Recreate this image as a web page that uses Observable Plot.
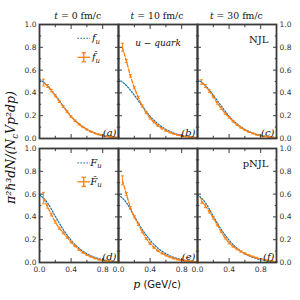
<!DOCTYPE html>
<html><head><meta charset="utf-8">
<script src="https://cdn.jsdelivr.net/npm/d3@7"></script>
<script src="https://cdn.jsdelivr.net/npm/@observablehq/plot@0.6"></script>
<style>body{margin:0;background:#fff}#chart{position:relative;width:300px;height:300px}</style>
</head><body><div id="chart"></div>
<script>
// ---------- data ----------
const times = ["0", "10", "30"];
const timeTitles = ["0 fm/c", "10 fm/c", "30 fm/c"];
const models = ["NJL", "pNJL"];
const panelLetters = ["(a)", "(b)", "(c)", "(d)", "(e)", "(f)"];

const xTickMajor = [0, 0.4, 0.8];
const xTickMinor = [0.2, 0.6, 1.0];
const xTickLabels = [0, 0.4, 0.8];
const yTickMajor = [0, 0.2, 0.4, 0.6, 0.8, 1.0];
const yTickMinor = [0.1, 0.3, 0.5, 0.7, 0.9];

// smooth reference distributions (blue dotted)
const pGrid = [0, 0.1, 0.2, 0.3, 0.4, 0.5, 0.6, 0.7, 0.8, 0.9, 1.0];
const fU = [0.52, 0.465, 0.38, 0.285, 0.195, 0.128, 0.08, 0.047, 0.027, 0.015, 0.008];
const FU = [0.595, 0.525, 0.405, 0.29, 0.195, 0.125, 0.077, 0.045, 0.025, 0.013, 0.006];

// simulated histograms (orange, with error bars)
const pBins = [0.05, 0.1, 0.15, 0.2, 0.25, 0.3, 0.35, 0.4, 0.45, 0.5, 0.55, 0.6, 0.65, 0.7, 0.75, 0.8, 0.85, 0.9, 0.95, 1.0];
const hatA = [0.49, 0.46, 0.42, 0.375, 0.325, 0.28, 0.235, 0.19, 0.155, 0.125, 0.1, 0.078, 0.06, 0.046, 0.035, 0.026, 0.019, 0.014, 0.01, 0.007];
const hatB = [0.80, 0.68, 0.55, 0.445, 0.36, 0.285, 0.225, 0.178, 0.142, 0.112, 0.088, 0.069, 0.053, 0.041, 0.031, 0.023, 0.017, 0.012, 0.009, 0.006];
const hatC = [0.495, 0.46, 0.415, 0.365, 0.31, 0.265, 0.22, 0.185, 0.15, 0.12, 0.095, 0.074, 0.057, 0.044, 0.033, 0.025, 0.018, 0.013, 0.009, 0.006];
const hatD = [0.565, 0.49, 0.42, 0.355, 0.30, 0.26, 0.22, 0.178, 0.145, 0.113, 0.087, 0.066, 0.05, 0.036, 0.026, 0.018, 0.013, 0.009, 0.006, 0.004];
const hatE = [0.72, 0.60, 0.48, 0.40, 0.335, 0.27, 0.21, 0.165, 0.13, 0.102, 0.08, 0.062, 0.047, 0.035, 0.026, 0.019, 0.014, 0.01, 0.007, 0.005];
const hatF = [0.54, 0.495, 0.445, 0.39, 0.33, 0.27, 0.215, 0.172, 0.14, 0.117, 0.096, 0.079, 0.064, 0.051, 0.041, 0.032, 0.024, 0.017, 0.011, 0.006];
const errTail = [0, 0.013, 0.011, 0.01, 0.009, 0.009, 0.008, 0.007, 0.006, 0.006, 0.005, 0.005, 0.004, 0.004, 0.004, 0.003, 0.003, 0.003, 0.003, 0.003];
const errFirst = [0.03, 0.035, 0.02, 0.05, 0.04, 0.02];

// ---------- tables ----------
const hats = [hatA, hatB, hatC, hatD, hatE, hatF];
const blueRows = [], orangeRows = [], panelRows = [];
models.forEach((m, mi) => times.forEach((t, ti) => {
  const k = mi * 3 + ti;
  const smooth = m === "NJL" ? fU : FU;
  pGrid.forEach((p, i) => blueRows.push({t, model: m, p, v: smooth[i]}));
  pBins.forEach((p, i) => orangeRows.push({t, model: m, p, v: hats[k][i], e: i === 0 ? errFirst[k] : errTail[i]}));
  panelRows.push({t, model: m, label: panelLetters[k]});
}));
const notes = [
  {t: "10", model: "NJL", text: "u − quark"}
];
const modelNotes = [
  {t: "30", model: "NJL", text: "NJL"},
  {t: "30", model: "pNJL", text: "pNJL"}
];

// ---------- layout / style ----------
const W = 300, H = 300, mL = 38, mR = 24, mT = 24, mB = 37;
const blue = "#1f77b4", orange = "#ff7f0e", frameColor = "#3a3a3a";
const serif = "DejaVu Serif", sans = "DejaVu Sans";
const cap = {draw(ctx, size) { const r = Math.sqrt(size / Math.PI); ctx.moveTo(-r, 0); ctx.lineTo(r, 0); }};
const tickBase = {label: null, fill: "none", facetAnchor: null, stroke: frameColor, strokeWidth: 1};
const fxy = {fx: "t", fy: "model"};

const chart = Plot.plot({
  width: W, height: H, marginLeft: mL, marginRight: mR, marginTop: mT, marginBottom: mB,
  style: {fontFamily: sans, fontSize: "7.5px", color: "#333", background: "#fff", overflow: "visible"},
  fx: {domain: times, paddingInner: 0, paddingOuter: 0, axis: null, label: null},
  fy: {domain: models, paddingInner: 0.08, paddingOuter: 0, axis: null, label: null},
  x: {domain: [0, 1]},
  y: {domain: [0, 1]},
  marks: [
    Plot.line(blueRows, {x: "p", y: "v", ...fxy, stroke: blue, strokeWidth: 1.3, strokeDasharray: "1.3,1.7", curve: "monotone-x"}),
    Plot.line(orangeRows, {x: "p", y: "v", ...fxy, stroke: orange, strokeWidth: 1.3, strokeDasharray: "3.8,1.8"}),
    Plot.ruleX(orangeRows, {x: "p", y1: d => d.v - d.e, y2: d => d.v + d.e, ...fxy, stroke: orange, strokeWidth: 0.9}),
    Plot.dot(orangeRows, {x: "p", y: d => d.v - d.e, ...fxy, symbol: cap, r: 1.5, fill: "none", stroke: orange, strokeWidth: 0.9}),
    Plot.dot(orangeRows, {x: "p", y: d => d.v + d.e, ...fxy, symbol: cap, r: 1.5, fill: "none", stroke: orange, strokeWidth: 0.9}),
    // inward ticks on every side of every panel
    Plot.axisX({anchor: "bottom", ticks: xTickMajor, tickSize: -4, ...tickBase}),
    Plot.axisX({anchor: "bottom", ticks: xTickMinor, tickSize: -2.2, ...tickBase}),
    Plot.axisX({anchor: "top", ticks: xTickMajor, tickSize: -4, ...tickBase}),
    Plot.axisX({anchor: "top", ticks: xTickMinor, tickSize: -2.2, ...tickBase}),
    Plot.axisY({anchor: "left", ticks: yTickMajor, tickSize: -4, ...tickBase}),
    Plot.axisY({anchor: "left", ticks: yTickMinor, tickSize: -2.2, ...tickBase}),
    Plot.axisY({anchor: "right", ticks: yTickMajor, tickSize: -4, ...tickBase}),
    Plot.axisY({anchor: "right", ticks: yTickMinor, tickSize: -2.2, ...tickBase}),
    // tick labels
    Plot.axisY({anchor: "left", ticks: yTickMajor, tickSize: 0, tickPadding: 3, tickFormat: ".1f", facetAnchor: "left", label: null, fill: "#333"}),
    Plot.axisY({anchor: "right", ticks: yTickMajor, tickSize: 0, tickPadding: 3, tickFormat: ".1f", facetAnchor: "right", label: null, fill: "#333"}),
    Plot.axisX({anchor: "bottom", ticks: xTickLabels, tickSize: 0, tickPadding: 4, tickFormat: ".1f", facetAnchor: "bottom", label: null, fill: "#333"}),
    Plot.frame({stroke: frameColor, strokeWidth: 1.8}),
    // panel annotations
    Plot.text(panelRows, {...fxy, text: "label", frameAnchor: "bottom-right", textAnchor: "end", lineAnchor: "bottom", dx: -2, dy: -3, fontFamily: serif, fontStyle: "italic", fontSize: 10, fill: "#111"}),
    Plot.text(notes, {...fxy, text: "text", frameAnchor: "top", lineAnchor: "middle", dy: 19, fontFamily: serif, fontStyle: "italic", fontSize: 9, fill: "#111"}),
    Plot.text(modelNotes, {...fxy, text: "text", frameAnchor: "top-right", textAnchor: "end", lineAnchor: "middle", dx: -8, dy: 15, fontFamily: serif, fontSize: 10, fill: "#111"})
  ]
});
document.getElementById("chart").appendChild(chart);

// ---------- titles, axis labels, legends ----------
const svg = d3.select(chart);
const pw = (W - mL - mR) / 3;
const rowTop = [mT, 148.5];

timeTitles.forEach((s, i) => {
  const t = svg.append("text").attr("x", mL + pw * (i + 0.5)).attr("y", 18.5)
    .attr("text-anchor", "middle").attr("font-family", serif).attr("font-size", 9.3).attr("fill", "#111");
  t.append("tspan").attr("font-style", "italic").text("t");
  t.append("tspan").text(" = " + s);
});

const xl = svg.append("text").attr("x", mL + pw * 1.5).attr("y", 288).attr("text-anchor", "middle").attr("fill", "#111").attr("font-size", 10);
xl.append("tspan").attr("font-family", serif).attr("font-style", "italic").attr("font-size", 11).text("p");
xl.append("tspan").attr("font-family", sans).text(" (GeV/c)");

const yl = svg.append("text").attr("transform", `translate(15,${(mT + 263) / 2 + 4}) rotate(-90)`)
  .attr("text-anchor", "middle").attr("font-family", serif).attr("font-style", "italic").attr("font-size", 12.5).attr("fill", "#111");
yl.append("tspan").text("π²ℏ³dN/(N");
yl.append("tspan").attr("font-size", 8.5).attr("dy", 2.8).text("c");
yl.append("tspan").attr("dy", -2.8).text("Vp²dp)");

function legend(top, smoothName, hatName) {
  const x0 = 77.5, x1 = 90, tx = 96;
  const yb = top + 14.3, yo = top + 33.3, xc = (x0 + x1) / 2;
  svg.append("line").attr("x1", x0).attr("x2", x1).attr("y1", yb).attr("y2", yb)
    .attr("stroke", blue).attr("stroke-width", 1.3).attr("stroke-dasharray", "1.3,1.7");
  svg.append("line").attr("x1", x0).attr("x2", x1).attr("y1", yo).attr("y2", yo).attr("stroke", orange).attr("stroke-width", 1.3);
  svg.append("line").attr("x1", xc).attr("x2", xc).attr("y1", yo - 4.5).attr("y2", yo + 4.5).attr("stroke", orange).attr("stroke-width", 1.3);
  [yo - 4.5, yo + 4.5].forEach(y => svg.append("line").attr("x1", xc - 2.2).attr("x2", xc + 2.2).attr("y1", y).attr("y2", y).attr("stroke", orange).attr("stroke-width", 1.3));
  [[yb, smoothName], [yo, hatName]].forEach(([y, name]) => {
    const t = svg.append("text").attr("x", tx).attr("y", y + 3).attr("font-family", serif).attr("font-style", "italic").attr("font-size", 10).attr("fill", "#111");
    t.append("tspan").text(name);
    t.append("tspan").attr("font-size", 7).attr("dy", 2.2).text("u");
  });
}
legend(rowTop[0], "f", "f\u0302");
legend(rowTop[1], "F", "F\u0302");
</script></body></html>
